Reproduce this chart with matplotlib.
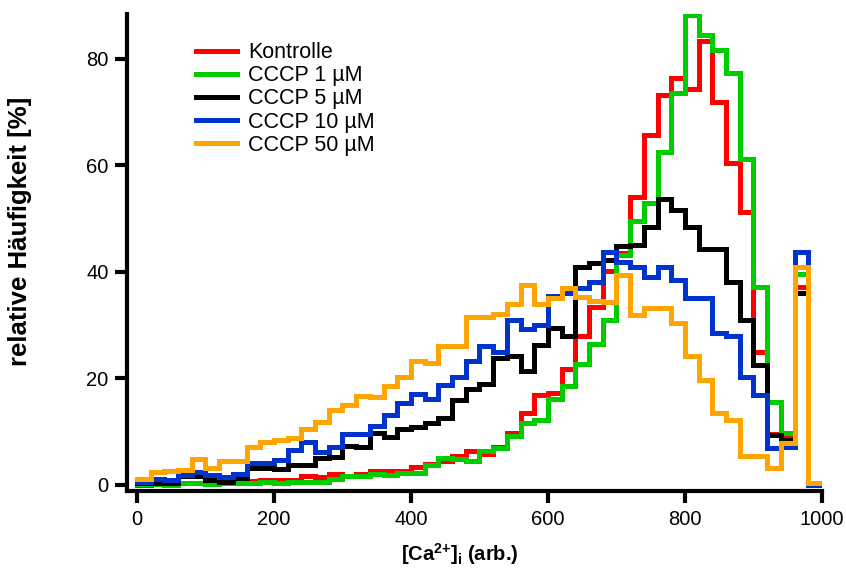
import numpy as np
import matplotlib
matplotlib.use('Agg')
import matplotlib.pyplot as plt

# 直方图数据：[Ca2+]i 分布，每个箱宽 20 (0..1000)
bin_edges = np.arange(0, 1001, 20)

kontrolle = [0.0, 0.2, 0.2, 0.4, 0.4, 0.3, 0.3, 0.4, 0.8, 1.0,
             0.9, 0.9, 1.7, 1.5, 2.0, 1.7, 2.0, 2.6, 2.6, 2.7,
             3.3, 3.9, 4.4, 5.4, 6.4, 5.8, 7.1, 9.7, 13.5, 16.8,
             17.3, 21.8, 28.0, 33.5, 40.2, 43.5, 54.1, 65.7, 73.2, 76.4,
             74.3, 83.3, 72.0, 60.4, 51.3, 25.0, 9.5, 9.0, 37.2, 0.0]
cccp_1 = [0.2, 0.2, 0.0, 0.3, 0.3, 0.1, 0.4, 0.4, 0.4, 0.5,
          0.4, 0.5, 0.6, 0.5, 1.1, 1.6, 1.6, 2.1, 1.9, 2.2,
          2.2, 3.8, 5.0, 4.8, 4.4, 6.3, 6.9, 9.1, 11.7, 12.2,
          16.2, 18.5, 22.7, 26.5, 31.0, 43.2, 49.6, 53.0, 62.6, 73.6,
          88.3, 84.5, 81.7, 77.3, 61.3, 37.2, 15.6, 9.8, 39.7, 0.0]
cccp_5 = [0.3, 0.3, 0.3, 1.7, 1.6, 0.9, 0.6, 1.3, 3.1, 3.1,
          2.9, 3.8, 3.8, 5.0, 5.3, 7.3, 7.2, 9.7, 9.0, 10.5,
          10.8, 11.7, 12.5, 16.0, 18.0, 19.0, 23.8, 24.2, 21.3, 26.3,
          29.4, 27.9, 41.0, 41.6, 42.3, 44.8, 45.1, 48.5, 53.7, 51.6,
          48.5, 44.4, 44.4, 38.2, 31.0, 22.5, 9.4, 8.5, 36.0, 0.0]
cccp_10 = [0.5, 1.1, 1.0, 1.9, 2.5, 1.9, 1.4, 2.1, 4.1, 4.1,
           4.6, 6.6, 8.1, 6.1, 7.2, 9.6, 9.6, 11.0, 13.1, 15.3,
           17.1, 16.1, 18.8, 20.3, 23.2, 26.0, 25.0, 30.9, 29.3, 30.0,
           35.5, 36.0, 36.9, 38.2, 43.8, 41.8, 41.0, 39.1, 41.0, 38.5,
           35.1, 35.1, 28.5, 27.9, 20.3, 16.9, 7.0, 7.2, 43.8, 0.0]
cccp_50 = [1.1, 2.5, 2.7, 2.8, 4.8, 3.1, 4.5, 4.5, 7.2, 8.1,
           8.5, 8.8, 10.5, 11.9, 14.0, 15.0, 16.7, 16.5, 18.5, 20.3,
           23.3, 22.9, 26.0, 26.1, 31.5, 31.6, 32.1, 34.0, 37.6, 34.0,
           35.1, 37.0, 35.3, 34.6, 34.3, 39.4, 31.9, 33.2, 33.2, 30.4,
           24.3, 19.7, 13.5, 12.1, 5.4, 5.4, 3.1, 7.8, 41.0, 0.3]

labels = ['Kontrolle', 'CCCP 1 µM', 'CCCP 5 µM', 'CCCP 10 µM', 'CCCP 50 µM']
colors = ['#ff0000', '#00cc00', '#000000', '#0033cc', '#ffa500']
series = [kontrolle, cccp_1, cccp_5, cccp_10, cccp_50]

plt.rcParams['font.family'] = ['Liberation Sans', 'DejaVu Sans']
plt.rcParams['mathtext.fontset'] = 'custom'
plt.rcParams['mathtext.bf'] = 'Liberation Sans:bold'
plt.rcParams['mathtext.rm'] = 'Liberation Sans:bold'

fig = plt.figure(figsize=(8.46, 5.72), dpi=100)
ax = fig.add_axes([0.1506, 0.1416, 0.8210, 0.8339])

for vals, lab, col in zip(series, labels, colors):
    y = list(vals) + [vals[-1]]
    ax.plot(bin_edges, y, drawstyle='steps-post', color=col, lw=3.6,
            label=lab, solid_joinstyle='miter')

ax.set_xlim(-14, 1000)
ax.set_ylim(-1.15, 88.45)
ax.set_xticks(np.arange(0, 1001, 200))
ax.set_yticks(np.arange(0, 81, 20))

for s in ['top', 'right']:
    ax.spines[s].set_visible(False)
for s in ['left', 'bottom']:
    ax.spines[s].set_linewidth(3.0)
ax.tick_params(axis='both', direction='out', length=8.5, width=3.0,
               labelsize=14.5)
ax.tick_params(axis='x', pad=5.5)
ax.tick_params(axis='y', pad=5)

ax.set_ylabel('relative Häufigkeit [%]', fontsize=18.5, fontweight='bold')
ax.yaxis.set_label_coords(-0.137, 0.545)
ax.set_xlabel(r'$\mathbf{[Ca^{2{+}}]_i}$ (arb.)', fontsize=14.5, fontweight='bold')
ax.xaxis.set_label_coords(0.479, -0.106)

ax.legend(loc='upper left', bbox_to_anchor=(0.092, 0.95), frameon=False,
          fontsize=15.5, handlelength=1.9, handletextpad=0.55,
          labelspacing=0.1, borderpad=0.2, borderaxespad=0.0)

fig.savefig('out.png', dpi=100)
